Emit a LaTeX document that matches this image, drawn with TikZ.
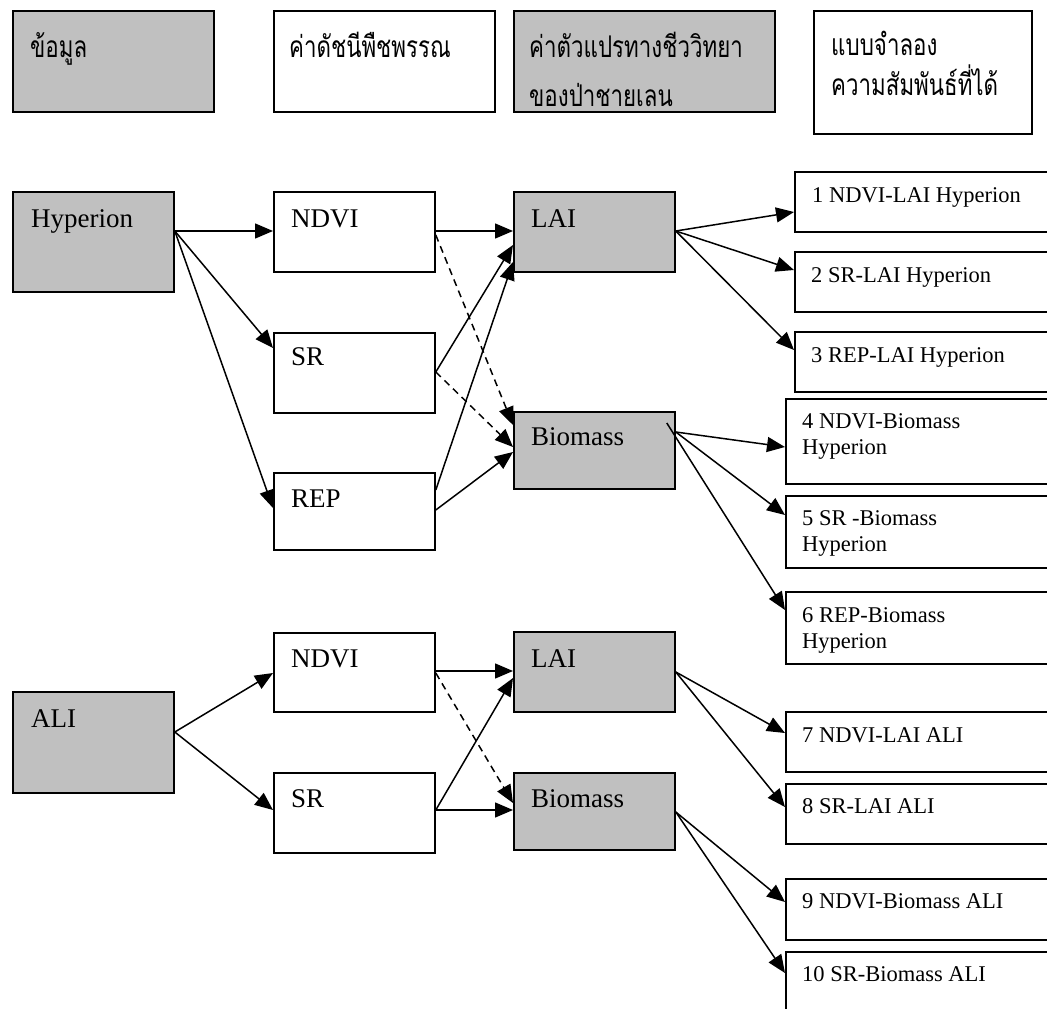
\documentclass[tikz,border=0pt]{standalone}
\usepackage{fontspec}
\usepackage{graphicx}
\setmainfont{Liberation Serif}
\newfontfamily\thaifont[Script=Thai]{Loma}
\usetikzlibrary{arrows.meta}
\definecolor{boxgray}{RGB}{192,192,192}
\newcommand\thaitall[1]{\scalebox{0.97}[1.3]{#1}}
\tikzset{
  box/.style={draw, line width=1.8pt, inner sep=0pt, anchor=north west, fill=white},
  gbox/.style={box, fill=boxgray},
  txt/.style={anchor=base west, inner sep=0pt, font=\fontsize{27}{30}\selectfont},
  rtxt/.style={anchor=base west, inner sep=0pt, font=\fontsize{22.5}{25}\selectfont},
  ttxt/.style={anchor=base west, inner sep=0pt, font=\thaifont\fontsize{23}{26}\selectfont},
  arr/.style={-{Triangle[length=18pt,width=15pt]}, line width=1.5pt},
  darr/.style={arr, dash pattern=on 7pt off 5pt}
}
\begin{document}
\begin{tikzpicture}[x=1pt,y=-1pt]
\useasboundingbox (0,0) rectangle (1047,1009);
% header
\node[gbox, minimum width=201pt, minimum height=101pt] (h1) at (12,10) {};
\node[box,  minimum width=221pt, minimum height=101pt] (h2) at (273,10) {};
\node[gbox, minimum width=261pt, minimum height=101pt] (h3) at (513,10) {};
\node[box,  minimum width=218pt, minimum height=123pt] (h4) at (813,10) {};
\node[ttxt] (t-h1) at (30,57) {\thaitall{ข้อมูล}};
\node[ttxt] (t-h2) at (289,57) {\thaitall{ค่าดัชนีพืชพรรณ}};
\node[ttxt] (t-h3a) at (529,57) {\thaitall{ค่าตัวแปรทางชีววิทยา}};
\node[ttxt] (t-h3b) at (529,106) {\thaitall{ของป่าชายเลน}};
\node[ttxt] (t-h4a) at (831,55) {\thaitall{แบบจำลอง}};
\node[ttxt] (t-h4b) at (831,95) {\thaitall{ความสัมพันธ์ที่ได้}};
% Hyperion part
\node[gbox, minimum width=161pt, minimum height=100pt] (hyp) at (12,191) {};
\node[box,  minimum width=161pt, minimum height=80pt] (ndvi1) at (273,191) {};
\node[box,  minimum width=161pt, minimum height=80pt] (sr1) at (273,332) {};
\node[box,  minimum width=161pt, minimum height=77pt] (rep1) at (273,472) {};
\node[gbox, minimum width=161pt, minimum height=80pt] (lai1) at (513,191) {};
\node[gbox, minimum width=161pt, minimum height=77pt] (bio1) at (513,411) {};
\node[box,  minimum width=262pt, minimum height=60pt] (r1) at (794,171) {};
\node[box,  minimum width=262pt, minimum height=60pt] (r2) at (794,251) {};
\node[box,  minimum width=262pt, minimum height=60pt] (r3) at (794,331) {};
\node[box,  minimum width=271pt, minimum height=85pt] (r4) at (785,398) {};
\node[box,  minimum width=271pt, minimum height=72pt] (r5) at (785,495) {};
\node[box,  minimum width=271pt, minimum height=72pt] (r6) at (785,591) {};
\node[txt] (t-hyp) at (31,227) {Hyperion};
\node[txt] (t-ndvi1) at (291,227) {NDVI};
\node[txt] (t-sr1) at (291,365) {SR};
\node[txt] (t-rep1) at (291,507) {REP};
\node[txt] (t-lai1) at (531,227) {LAI};
\node[txt] (t-bio1) at (531,445) {Biomass};
\node[rtxt] (t-r1) at (812,202) {1 NDVI-LAI Hyperion};
\node[rtxt] (t-r2) at (811,282) {2 SR-LAI Hyperion};
\node[rtxt] (t-r3) at (811,362) {3 REP-LAI Hyperion};
\node[rtxt] (t-r4a) at (802,428) {4 NDVI-Biomass};
\node[rtxt] (t-r4b) at (802,454) {Hyperion};
\node[rtxt] (t-r5a) at (802,525) {5 SR -Biomass};
\node[rtxt] (t-r5b) at (802,551) {Hyperion};
\node[rtxt] (t-r6a) at (802,622) {6 REP-Biomass};
\node[rtxt] (t-r6b) at (802,648) {Hyperion};
% ALI part
\node[gbox, minimum width=161pt, minimum height=101pt] (ali) at (12,691) {};
\node[box,  minimum width=161pt, minimum height=79pt] (ndvi2) at (273,632) {};
\node[box,  minimum width=161pt, minimum height=80pt] (sr2) at (273,772) {};
\node[gbox, minimum width=161pt, minimum height=80pt] (lai2) at (513,631) {};
\node[gbox, minimum width=161pt, minimum height=77pt] (bio2) at (513,772) {};
\node[box,  minimum width=271pt, minimum height=60pt] (r7) at (785,711) {};
\node[box,  minimum width=271pt, minimum height=60pt] (r8) at (785,783) {};
\node[box,  minimum width=271pt, minimum height=61pt] (r9) at (785,878) {};
\node[box,  minimum width=271pt, minimum height=70pt] (r10) at (785,951) {};
\node[txt] (t-ali) at (31,727) {ALI};
\node[txt] (t-ndvi2) at (291,667) {NDVI};
\node[txt] (t-sr2) at (291,807) {SR};
\node[txt] (t-lai2) at (531,667) {LAI};
\node[txt] (t-bio2) at (531,807) {Biomass};
\node[rtxt] (t-r7) at (802,742) {7 NDVI-LAI ALI};
\node[rtxt] (t-r8) at (802,813) {8 SR-LAI ALI};
\node[rtxt] (t-r9) at (802,908) {9 NDVI-Biomass ALI};
\node[rtxt] (t-r10) at (802,981) {10 SR-Biomass ALI};
% connectors Hyperion
\draw[arr] ([yshift=-40pt]hyp.north east) -- ([yshift=-40pt]ndvi1.north west);
\draw[arr] ([yshift=-40pt]hyp.north east) -- ([yshift=-16pt]sr1.north west);
\draw[arr] ([yshift=-40pt]hyp.north east) -- ([yshift=-36pt]rep1.north west);
\draw[arr] ([yshift=-40pt]ndvi1.north east) -- ([yshift=-40pt]lai1.north west);
\draw[darr] ([yshift=-44pt]ndvi1.north east) -- ([yshift=-14pt]bio1.north west);
\draw[arr] ([yshift=-40pt]sr1.north east) -- ([yshift=-54pt]lai1.north west);
\draw[darr] ([yshift=-40pt]sr1.north east) -- ([yshift=-36pt]bio1.north west);
\draw[arr] ([yshift=-18pt]rep1.north east) -- ([yshift=-71pt]lai1.north west);
\draw[arr] ([yshift=-38pt]rep1.north east) -- ([yshift=-41pt]bio1.north west);
\draw[arr] ([yshift=-40pt]lai1.north east) -- ([yshift=-41pt]r1.north west);
\draw[arr] ([yshift=-40pt]lai1.north east) -- ([yshift=-19pt]r2.north west);
\draw[arr] ([yshift=-40pt]lai1.north east) -- ([yshift=-19pt]r3.north west);
\draw[arr] ([yshift=-21pt]bio1.north east) -- ([yshift=-49pt]r4.north west);
\draw[arr] ([yshift=-21pt]bio1.north east) -- ([yshift=-20pt]r5.north west);
\draw[arr] ([xshift=-9pt,yshift=-12pt]bio1.north east) -- ([yshift=-19pt]r6.north west);
% connectors ALI
\draw[arr] ([yshift=-41pt]ali.north east) -- ([yshift=-41pt]ndvi2.north west);
\draw[arr] ([yshift=-41pt]ali.north east) -- ([yshift=-38pt]sr2.north west);
\draw[arr] ([yshift=-39pt]ndvi2.north east) -- ([yshift=-40pt]lai2.north west);
\draw[darr] ([yshift=-41pt]ndvi2.north east) -- ([yshift=-31pt]bio2.north west);
\draw[arr] ([yshift=-38pt]sr2.north east) -- ([yshift=-47pt]lai2.north west);
\draw[arr] ([yshift=-38pt]sr2.north east) -- ([yshift=-38pt]bio2.north west);
\draw[arr] ([yshift=-41pt]lai2.north east) -- ([yshift=-22pt]r7.north west);
\draw[arr] ([yshift=-41pt]lai2.north east) -- ([yshift=-24pt]r8.north west);
\draw[arr] ([yshift=-40pt]bio2.north east) -- ([yshift=-24pt]r9.north west);
\draw[arr] ([yshift=-40pt]bio2.north east) -- ([yshift=-22pt]r10.north west);
\end{tikzpicture}
\end{document}
